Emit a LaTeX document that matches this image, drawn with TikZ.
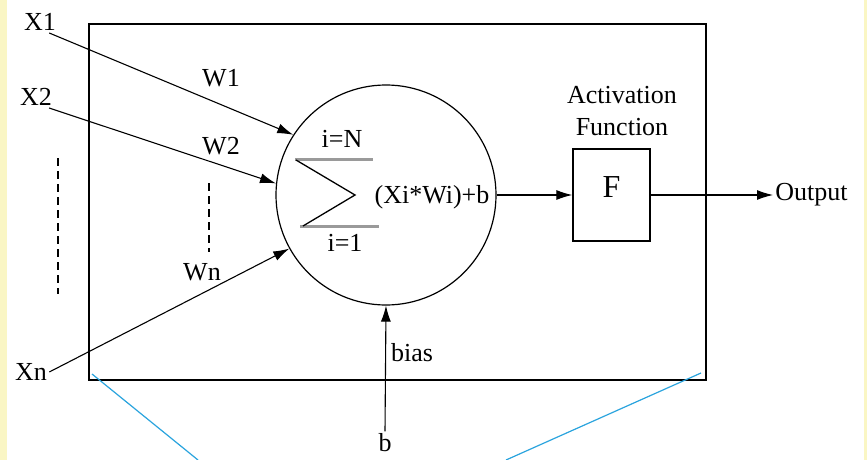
\documentclass[tikz,border=0pt]{standalone}
\usepackage{fontspec}
\setmainfont{Liberation Serif}
\usepackage{tikz}
\usetikzlibrary{arrows.meta,positioning,calc}
\usepackage{xcolor}
\definecolor{fpage}{HTML}{FAF6C4}
\definecolor{fcyan}{HTML}{2AA4DE}
\definecolor{fbar}{HTML}{9A9A9A}
\tikzset{
  neuron/.style  = {draw, circle, line width=0.6pt, inner sep=0pt, minimum size=110pt},
  block/.style   = {draw, rectangle, line width=0.7pt, minimum width=38.5pt,
                    minimum height=46pt, text depth=8pt, font=\fontsize{16}{18}\selectfont},
  lbl/.style     = {inner sep=1pt},
  sig/.style     = {-{Latex[length=8pt,width=5pt]}, line width=0.55pt},
  dots/.style    = {dash pattern=on 4pt off 2.5pt, line width=0.6pt},
}
\newcommand{\sumsign}{%
  \draw[fbar, line width=1.5pt] (295,159) -- (373,159) (300,226) -- (379,226);
  \draw[line width=0.65pt] (296,160) -- (355,195) -- (303,226);}

\begin{document}
\begin{tikzpicture}[x=0.5pt,y=-0.5pt,font=\fontsize{13}{16}\selectfont]
\useasboundingbox (0,0) rectangle (867,460);
\fill[fpage] (0,0) rectangle (867,460);
\fill[white] (7,0) rectangle (864,460);
\draw[line width=0.7pt] (89,24) rectangle (706,380);
% inputs and weights
\node[lbl] (x1) at (40,22) {X1};
\node[lbl] (x2) at (36,97) {X2};
\node[lbl] (xn) at (31,372) {Xn};
\node[lbl] (w1) at (221,78) {W1};
\node[lbl] (w2) at (221,146) {W2};
\node[lbl] (wn) at (202,272) {Wn};
\draw[dots] (58,158) -- (58,294);
\draw[dots] (209,183) -- (209,252);
% summing unit
\node[neuron] (sum) at (386,195) {};
\sumsign
\node[lbl] (top) at (342,139) {i=N};
\node[lbl] (bot) at (345,243) {i=1};
\node[lbl] (term) at (432,197) {(Xi*Wi)+b};
\draw[sig] (x1.-50) -- (sum.147);
\draw[sig] (x2.-40) -- (sum.174);
\draw[sig] (xn.east) -- (sum.209);
% activation and output
\node[block] (actf) at (611.5,195) {F};
\node[lbl, align=center] (actlbl) at (622,111) {Activation\\Function};
\node[lbl, anchor=west] (out) at (773,195) {Output};
\draw[sig] (sum.east) -- (actf.west);
\draw[sig] (actf.east) -- (out.west);
% bias input
\node[lbl] (b) at (385,443) {b};
\node[lbl] (bias) at (412,353) {bias};
\draw[sig] (b.north) -- (sum.south);
\draw[fcyan, line width=0.6pt] (92,374) -- (198,460);
\draw[fcyan, line width=0.6pt] (701,373) -- (506,460);
\end{tikzpicture}
\end{document}
